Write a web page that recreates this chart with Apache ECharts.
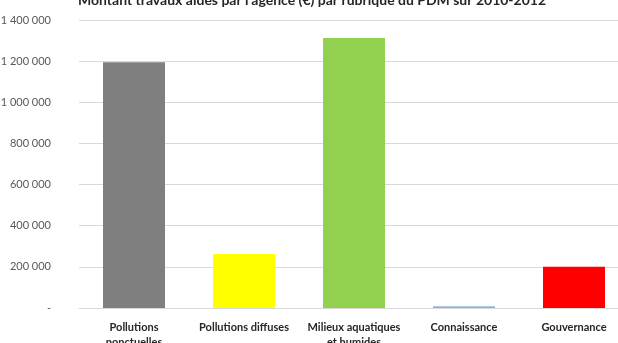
<!DOCTYPE html>
<html>
<head>
<meta charset="utf-8">
<script src="https://cdn.jsdelivr.net/npm/echarts@6/dist/echarts.min.js"></script>
<style>
  html, body { margin: 0; padding: 0; background: #fff; }
  #chart { width: 618px; height: 343px; }
</style>
</head>
<body>
<div id="chart"></div>
<script>
const categories = ['Pollutions\nponctuelles', 'Pollutions diffuses', 'Milieux aquatiques\net humides', 'Connaissance', 'Gouvernance']
const amounts = [1195000, 262000, 1312000, 8000, 200000]
const barColors = ['#7f7f7f', '#ffff00', '#92d050', '#8eb4e3', '#ff0000']
const yTicks = [0, 200000, 400000, 600000, 800000, 1000000, 1200000, 1400000]

const fmt = (v) => v === 0 ? '-' : String(v).replace(/\B(?=(\d{3})+(?!\d))/g, ' ')

const chart = echarts.init(document.getElementById('chart'))

chart.setOption({
  backgroundColor: '#fff',
  animation: false,
  title: {
    text: 'Montant travaux aidés par l\'agence (€) par rubrique du PDM sur 2010-2012',
    left: 73,
    top: -12,
    textStyle: { fontFamily: 'Lato', fontSize: 14, fontWeight: 'bold', color: '#262626' }
  },
  grid: { left: 79, right: -11, top: 20, bottom: 35, containLabel: false, outerBoundsMode: 'none' },
  xAxis: {
    type: 'category',
    data: categories,
    axisTick: { show: false },
    axisLine: { lineStyle: { color: '#d9d9d9' } },
    axisLabel: {
      interval: 0,
      margin: 12,
      fontFamily: 'Lato',
      fontSize: 11,
      fontWeight: 'bold',
      color: '#262626',
      lineHeight: 15
    }
  },
  yAxis: {
    type: 'value',
    min: yTicks[0],
    max: yTicks[yTicks.length - 1],
    interval: 200000,
    axisLine: { show: false },
    axisTick: { show: false },
    splitLine: { lineStyle: { color: '#d9d9d9' } },
    axisLabel: {
      formatter: fmt,
      margin: 28,
      fontFamily: 'Lato',
      fontSize: 11,
      color: '#595959'
    }
  },
  series: [{
    type: 'bar',
    data: amounts.map((v, i) => ({ value: v, itemStyle: { color: barColors[i] } })),
    barWidth: 62
  }]
})
</script>
</body>
</html>
